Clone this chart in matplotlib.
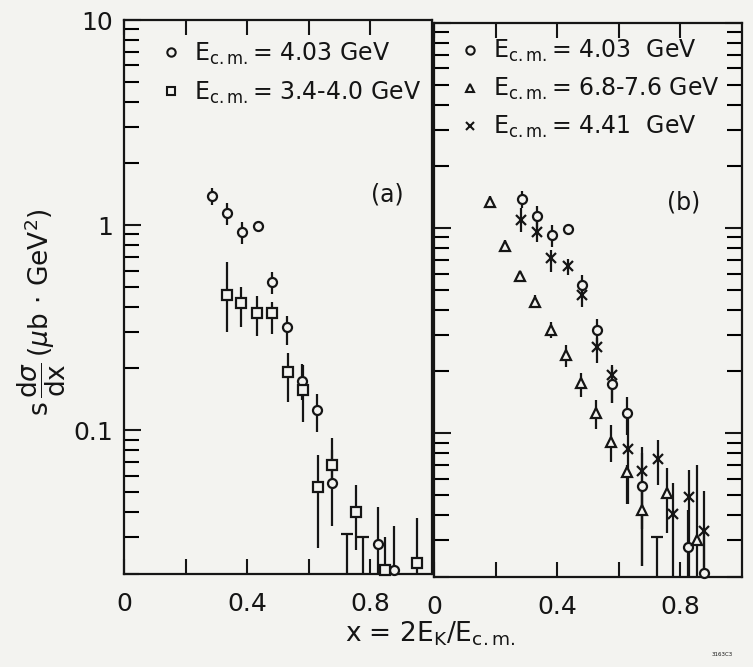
import matplotlib
matplotlib.use("Agg")
import matplotlib.pyplot as plt
from matplotlib.lines import Line2D
import numpy as np

plt.rcParams['font.family'] = ['DejaVu Sans']
plt.rcParams['mathtext.fontset'] = 'dejavusans'

# ---- data ----
# E_cm = 4.03 GeV (circles) -- shown in both panels
c403_x  = [0.285, 0.334, 0.382, 0.435, 0.482, 0.529, 0.578, 0.628, 0.675, 0.825, 0.876]
c403_y  = [1.38, 1.15, 0.93, 0.99, 0.53, 0.317, 0.173, 0.125, 0.055, 0.0278, 0.0208]
c403_lo = [1.25, 1.00, 0.81, 0.94, 0.46, 0.26, 0.14, 0.098, 0.034, 0.020, 0.020]
c403_hi = [1.52, 1.28, 1.04, 1.04, 0.59, 0.36, 0.21, 0.15, 0.080, 0.042, 0.034]
c403_ul_x = [0.725]
c403_ul_y = [0.031]

# E_cm = 3.4-4.0 GeV (squares) -- panel (a)
s34_x  = [0.333, 0.381, 0.433, 0.482, 0.533, 0.582, 0.629, 0.675, 0.754, 0.849, 0.952]
s34_y  = [0.456, 0.418, 0.371, 0.371, 0.192, 0.157, 0.053, 0.068, 0.040, 0.0208, 0.0225]
s34_lo = [0.30, 0.317, 0.287, 0.296, 0.137, 0.110, 0.0266, 0.053, 0.026, 0.020, 0.020]
s34_hi = [0.66, 0.50, 0.45, 0.42, 0.237, 0.208, 0.076, 0.092, 0.054, 0.030, 0.0375]
s34_ul_x = [0.776]
s34_ul_y = [0.030]

# E_cm = 6.8-7.6 GeV (triangles) -- panel (b)
t68_x  = [0.183, 0.229, 0.280, 0.328, 0.380, 0.429, 0.478, 0.525, 0.575, 0.627, 0.676, 0.755, 0.855]
t68_y  = [1.34, 0.817, 0.583, 0.437, 0.318, 0.240, 0.175, 0.126, 0.091, 0.065, 0.042, 0.051, 0.030]
t68_lo = [1.25, 0.77, 0.55, 0.41, 0.29, 0.21, 0.15, 0.105, 0.072, 0.045, 0.0226, 0.0325, 0.020]
t68_hi = [1.43, 0.87, 0.62, 0.47, 0.35, 0.27, 0.196, 0.145, 0.11, 0.070, 0.054, 0.068, 0.070]

# E_cm = 4.41 GeV (crosses) -- panel (b)
x441_x  = [0.283, 0.334, 0.380, 0.434, 0.480, 0.528, 0.577, 0.629, 0.676, 0.728, 0.777, 0.829, 0.877]
x441_y  = [1.09, 0.96, 0.711, 0.653, 0.471, 0.264, 0.192, 0.084, 0.0655, 0.075, 0.0405, 0.0486, 0.0335]
x441_lo = [0.96, 0.86, 0.61, 0.59, 0.41, 0.22, 0.14, 0.045, 0.0226, 0.056, 0.020, 0.020, 0.020]
x441_hi = [1.25, 1.09, 0.78, 0.71, 0.51, 0.29, 0.215, 0.12, 0.086, 0.093, 0.057, 0.066, 0.052]

xtick_vals = [0, 0.2, 0.4, 0.6, 0.8]
xtick_labels = ["0", "", "0.4", "", "0.8"]
ytick_vals = [0.1, 1, 10]
ytick_labels = ["0.1", "1", "10"]

BG = '#f3f3f0'
INK = '#151515'

fig = plt.figure(figsize=(7.53, 6.67), dpi=100, facecolor=BG)
W, H = 753, 667
def rect(l, r, t, b):
    return [l / W, 1 - b / H, (r - l) / W, (b - t) / H]

axa = fig.add_axes(rect(124, 432, 20, 573.5))
axb = fig.add_axes(rect(434, 742, 23, 576.5))

def errs(y, lo, hi):
    y = np.asarray(y); lo = np.asarray(lo); hi = np.asarray(hi)
    return np.vstack([y - lo, hi - y])

def series(ax, x, y, lo, hi, marker, ms):
    ax.errorbar(x, y, yerr=errs(y, lo, hi), fmt=marker, ms=ms, mfc=BG,
                mec=INK, mew=1.6, ecolor=INK, elinewidth=1.6, capsize=0,
                color=INK, zorder=3, clip_on=False)

def uplim(ax, x, y):
    ax.vlines(x, 0.02, y, colors=INK, lw=1.6, zorder=2)
    ax.plot(x, y, ls='none', marker='_', ms=8, mew=1.6, color=INK, zorder=2)

for ax in (axa, axb):
    ax.set_facecolor(BG)
    ax.set_yscale('log')
    ax.set_xlim(0, 1.0)
    ax.set_ylim(0.02, 10)
    for s in ax.spines.values():
        s.set_linewidth(1.6)
        s.set_color(INK)
    ax.set_xticks(xtick_vals)
    ax.set_xticklabels(xtick_labels, fontsize=18, color=INK)
    ax.tick_params(axis='x', which='major', direction='in', length=11, width=1.5,
                   top=True, bottom=True, pad=13, colors=INK)
    ax.xaxis.set_minor_locator(plt.NullLocator())
    ax.yaxis.set_major_locator(matplotlib.ticker.FixedLocator(ytick_vals))
    ax.yaxis.set_minor_locator(matplotlib.ticker.LogLocator(base=10, subs=np.arange(2, 10)))
    ax.yaxis.set_minor_formatter(matplotlib.ticker.NullFormatter())

axa.set_yticklabels(ytick_labels, fontsize=18, color=INK)
axa.tick_params(axis='y', which='major', direction='in', length=12, width=1.5,
                left=True, right=False, pad=8, colors=INK)
axa.tick_params(axis='y', which='minor', direction='in', length=11, width=1.5,
                left=True, right=False)
axb.tick_params(axis='y', which='major', direction='in', length=12, width=1.5,
                left=True, right=True, labelleft=False, colors=INK)
axb.tick_params(axis='y', which='minor', direction='in', length=11, width=1.5,
                left=True, right=True)

# panel (a)
series(axa, c403_x, c403_y, c403_lo, c403_hi, 'o', 6.5)
series(axa, s34_x, s34_y, s34_lo, s34_hi, 's', 7)
uplim(axa, c403_ul_x, c403_ul_y)
uplim(axa, s34_ul_x, s34_ul_y)

# panel (b)
series(axb, c403_x, c403_y, c403_lo, c403_hi, 'o', 6.5)
series(axb, t68_x, t68_y, t68_lo, t68_hi, '^', 7)
series(axb, x441_x, x441_y, x441_lo, x441_hi, 'x', 7)
uplim(axb, c403_ul_x, c403_ul_y)

ecm = r"E$_{\mathrm{c.m.}}$"
ha = [Line2D([], [], ls='none', marker='o', ms=6, mfc=BG, mec=INK, mew=1.5),
      Line2D([], [], ls='none', marker='s', ms=6, mfc=BG, mec=INK, mew=1.5)]
la = [ecm + "= 4.03 GeV", ecm + "= 3.4-4.0 GeV"]
leg = axa.legend(ha, la, loc='upper left', bbox_to_anchor=(0.09, 0.98), frameon=False,
                 fontsize=17, handlelength=0.8, handletextpad=0.6, labelspacing=0.55,
                 borderaxespad=0)
for t in leg.get_texts():
    t.set_color(INK)

hb = [Line2D([], [], ls='none', marker='o', ms=6, mfc=BG, mec=INK, mew=1.5),
      Line2D([], [], ls='none', marker='^', ms=6, mfc=BG, mec=INK, mew=1.5),
      Line2D([], [], ls='none', marker='x', ms=6, mfc=BG, mec=INK, mew=1.5)]
lb = [ecm + "= 4.03  GeV", ecm + "= 6.8-7.6 GeV", ecm + "= 4.41  GeV"]
leg = axb.legend(hb, lb, loc='upper left', bbox_to_anchor=(0.055, 0.99), frameon=False,
                 fontsize=17, handlelength=0.8, handletextpad=0.6, labelspacing=0.5,
                 borderaxespad=0)
for t in leg.get_texts():
    t.set_color(INK)

axa.text(0.855, 0.685, "(a)", transform=axa.transAxes, fontsize=17, ha='center', va='center', color=INK)
axb.text(0.81, 0.675, "(b)", transform=axb.transAxes, fontsize=17, ha='center', va='center', color=INK)

fig.text(42 / W, 1 - 312 / H,
         r"s$\,\dfrac{\mathrm{d}\sigma}{\mathrm{dx}}\,(\mu$b$\,\cdot\,$GeV$^2)$",
         rotation=90, fontsize=19, ha='center', va='center', color=INK)
fig.text(430 / W, 1 - 634 / H, r"x = 2E$_{\mathrm{K}}$/E$_{\mathrm{c.m.}}$",
         fontsize=19, ha='center', va='center', color=INK)
fig.text(722 / W, 1 - 655 / H, "3163C3", fontsize=4, ha='center', va='center', color=INK)

fig.savefig("out.png", dpi=100, facecolor=BG)
